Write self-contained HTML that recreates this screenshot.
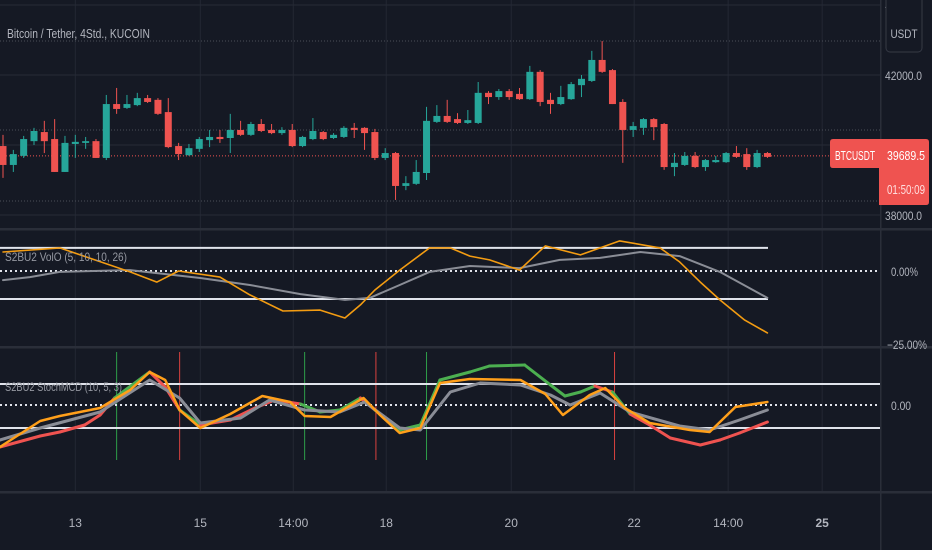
<!DOCTYPE html>
<html><head><meta charset="utf-8"><style>
html,body{margin:0;padding:0;background:#151924;}
svg{display:block;font-family:"Liberation Sans",sans-serif;}
</style></head><body>
<svg id="c" width="932" height="550" viewBox="0 0 932 550">
<rect width="932" height="550" fill="#151924"/>
<g id="grid"></g>
<g id="price"></g>
<g id="vol"></g>
<g id="stoch"></g>
<g id="axes"></g>
</svg>
<script>
// ---- candle data ----
const opens=[39970,39430,39690,40110,40370,40170,39230,40030,40060,40110,39630,41170,41060,41140,41340,41290,40940,39970,39710,39890,40140,40230,40200,40430,40290,40600,40430,40340,40430,39970,40170,40370,40200,40230,40490,40490,40370,39630,39770,38830,38890,39200,40660,40830,40740,40630,40630,41490,41370,41540,41460,41310,42090,41290,41170,41310,41710,41830,42430,42140,41230,40430,40490,40740,40600,39370,39430,39690,39370,39510,39510,39770,39740,39370,39770];
const highs=[40290,39860,40260,40490,40690,40740,40260,40290,40230,40170,41430,41630,41430,41490,41430,41340,41340,40060,40030,40230,40430,40430,40890,40690,40660,40740,40600,40510,40600,40260,40770,40400,40340,40540,40630,40510,40460,39910,39800,39110,39570,41090,41140,41290,40910,41000,41800,41540,41600,41600,41630,42260,42140,41490,41690,41800,42000,42690,42970,42170,41310,40660,40770,40770,40630,39770,39800,39800,39600,39690,39800,39970,39910,39860,39800];
const lows=[39060,39230,39630,40000,39770,39230,39230,39630,39890,39630,39570,40890,41030,41110,41200,40860,39910,39570,39690,39800,39940,40060,39770,40260,40260,40370,40310,40290,39940,39940,40140,40140,40170,40200,40200,39860,39570,39570,38430,38710,38860,39000,40630,40630,40600,40600,40600,41170,41290,41290,41290,41290,41110,40890,41140,41290,41370,41800,42060,41170,39490,40230,40290,40140,39290,39110,39400,39340,39260,39490,39490,39630,39290,39340,39630];
const closes=[39430,39740,40170,40400,40110,39230,40060,40090,40110,39630,41170,41030,41170,41340,41230,40890,39940,39740,39910,40170,40230,40170,40430,40290,40600,40400,40340,40430,39970,40230,40400,40170,40290,40490,40430,40340,39630,39770,38830,38910,39230,40690,40830,40660,40630,40710,41490,41370,41540,41370,41310,42090,41230,41170,41370,41740,41890,42430,42090,41170,40430,40540,40740,40510,39370,39490,39690,39370,39570,39570,39770,39660,39370,39770,39660];
const priceTicks=["44000.0","42000.0","38000.0"];
const priceTickVals=[44000,42000,38000];
const gridVals=[44000,42000,40000,38000];
const lastPrice=39689.5;
// ---- VolO ----
const volOrangeIdx=[0,5.5,12.3,14.9,17,21,23.9,27.1,30.7,33.1,34.6,36,38.4,41.3,43.3,45.2,47.1,50,52.5,55.9,59.7,63.6,65.5,67.5,69.4,71.8,74];
const volOrange=[6.5,7.9,-0.3,-3.8,0,-2.1,-8.2,-13.7,-13.4,-16.1,-11.6,-6.5,0.3,7.9,7.9,5.1,3.8,0.3,8.6,5.5,10.3,7.9,3.1,-3.8,-9.9,-16.8,-21.2];
const volGrayIdx=[0,2.6,5.5,12.3,19.1,23.9,28.8,33.1,35.5,38.4,41.3,45.2,50,53.9,57.8,61.7,65.5,69.4,74];
const volGray=[-3.1,-2.1,-0.3,0.3,-2.4,-4.8,-7.9,-9.9,-9.2,-4.8,-0.3,1.7,1.0,3.8,4.5,6.5,5.1,-0.3,-9.2];
const volBands=[7.9,-9.6];
// ---- StochMCD ----
const sigIdx=[-0.3,3.6,5.5,7.9,9.4,10.8,14.2,15.7,17.1,19.1,22,24.4,26.3,28.8,30.7,32.6,34.6,36,38.4,40.4,42.3,45.2,47.1,50.5,53,54.4,55.9,57.3,59,60.7,62.6,64.6,67.5,69.4,71.3,74];
const sigVals=[-42,-31,-27,-20,-10,7,33,18,-5,-20,-15,-3,5,1,-7,-5,7,-5,-25,-20,25,33,39,40,20,9,13,19,13,-9,-20,-33,-40,-35,-28,-17];
const stOrIdx=[-0.3,3.6,5.5,9.4,12.3,14.2,15.7,17.1,19.1,22,25.1,27.8,29.2,31.7,34.9,36.5,38.4,40.4,42.3,45.2,50.1,52.5,54.2,56.8,58.3,60.2,62.6,66.5,68.4,70.9,74];
const stOrVals=[-42,-16,-11,-3,15,33,25,-5,-23,-9,9,3,-11,-12,7,-10,-28,-23,22,26,25,11,-10,10,17,-3,-18,-25,-27,-2,3];
const stGrIdx=[-0.3,3.6,9.4,14.2,17.1,19.1,23,25.8,29.2,32.6,35,38.4,40.4,43.3,46.2,50.1,53,54.9,57.8,60.7,65.5,68.4,71.3,74];
const stGrVals=[-35,-23,-7,25,7,-18,-13,5,-5,-7,3,-23,-25,13,22,20,10,0,12,-7,-21,-25,-15,-5];
const stBands=[21,-23];
const buySignals=[11,29.2,41];
const sellSignals=[17.1,36.1,59.2];
// ---- time axis ----
const timeLabels=["13","15","14:00","18","20","22","14:00","25"];
const timeIdx=[7,19.1,28.1,37.1,49.2,61.1,70.2,79.3];

const NS="http://www.w3.org/2000/svg";
function mk(parent,tag,attrs,text){const e=document.createElementNS(NS,tag);for(const k in attrs)e.setAttribute(k,attrs[k]);if(text!==undefined)e.textContent=text;parent.appendChild(e);return e;}
const xOf=i=>3+i*10.33;
const yP=p=>145-(p-40000)*0.035;
const yV=v=>271-v*2.92;
const yS=v=>405-v;
const PW=880;

const grid=document.getElementById('grid');
timeIdx.forEach((t,i)=>{const l=mk(grid,'line',{x1:xOf(t),x2:xOf(t),y1:0,y2:492,stroke:'#232733','stroke-width':1});

});
gridVals.forEach(v=>{const l=mk(grid,'line',{x1:0,x2:PW,y1:yP(v),y2:yP(v),stroke:'#262a36','stroke-width':1});

});
[41,130,201].forEach(y=>{const l=mk(grid,'line',{x1:0,x2:PW,y1:y,y2:y,stroke:'#4a4e59','stroke-width':1,'stroke-dasharray':'1 2'});

});
[229,347,492].forEach(y=>{const l=mk(grid,'rect',{x:0,y:y-1,width:932,height:2.5,fill:'#2a2e39'});

});
mk(grid,'rect',{x:880,y:0,width:1.5,height:550,fill:'#2a2e39',});

const pr=document.getElementById('price');
const lpY=yP(lastPrice);
mk(pr,'line',{x1:0,x2:PW,y1:lpY,y2:lpY,stroke:'#ef5350','stroke-width':1,'stroke-dasharray':'1 2',});
for(let i=0;i<opens.length;i++){
  const up=closes[i]>=opens[i];const col=up?'#26a69a':'#ef5350';const x=xOf(i);
  const g=mk(pr,'g',{});
  
  
  mk(g,'line',{x1:x,x2:x,y1:yP(highs[i]),y2:yP(lows[i]),stroke:col,'stroke-width':1});
  const t=yP(Math.max(opens[i],closes[i])),b=yP(Math.min(opens[i],closes[i]));
  mk(g,'rect',{x:x-3.5,y:t,width:7,height:Math.max(1.5,b-t),fill:col});
}
mk(pr,'text',{x:7,y:38,fill:'#b2b5be','font-size':13,textLength:143,lengthAdjust:'spacingAndGlyphs',},'Bitcoin / Tether, 4Std., KUCOIN');

function poly(parent,xs,ys,color,w,name){
  const d=xs.map((x,i)=>(i?'L':'M')+x.toFixed(1)+' '+ys[i].toFixed(1)).join(' ');
  const p=mk(parent,'path',{d:d,fill:'none',stroke:color,'stroke-width':w,'stroke-linejoin':'round','stroke-linecap':'round'});
  
  
  return p;
}
const vg=document.getElementById('vol');
volBands.forEach(v=>{const l=mk(vg,'line',{x1:0,x2:768,y1:yV(v),y2:yV(v),stroke:'#e0e3eb','stroke-width':2});

});
mk(vg,'line',{x1:0,x2:PW,y1:yV(0),y2:yV(0),stroke:'#e0e3eb','stroke-width':2,'stroke-dasharray':'2 3',});
poly(vg,volGrayIdx.map(xOf),volGray.map(yV),'#8a8d96',2,'volo-signal-line');
poly(vg,volOrangeIdx.map(xOf),volOrange.map(yV),'#f39c12',1.6,'volo-line');
mk(vg,'text',{x:5,y:261,fill:'#9598a1','font-size':12,textLength:122,lengthAdjust:'spacingAndGlyphs',},'S2BU2 VolO (5, 10, 10, 26)');

const sg=document.getElementById('stoch');
buySignals.forEach(t=>{const l=mk(sg,'line',{x1:xOf(t),x2:xOf(t),y1:352,y2:460,stroke:'#2e9e4a','stroke-width':1});

});
sellSignals.forEach(t=>{const l=mk(sg,'line',{x1:xOf(t),x2:xOf(t),y1:352,y2:460,stroke:'#d9423f','stroke-width':1});

});
stBands.forEach(v=>{const l=mk(sg,'line',{x1:0,x2:PW,y1:yS(v),y2:yS(v),stroke:'#e0e3eb','stroke-width':2});

});
mk(sg,'line',{x1:0,x2:PW,y1:yS(0),y2:yS(0),stroke:'#e0e3eb','stroke-width':2,'stroke-dasharray':'2 3',});
function interp(xs,vs,x){if(x<=xs[0])return vs[0];for(let i=1;i<xs.length;i++){if(x<=xs[i]){const f=(x-xs[i-1])/(xs[i]-xs[i-1]);return vs[i-1]+f*(vs[i]-vs[i-1]);}}return vs[vs.length-1];}
for(let i=1;i<sigIdx.length;i++){
  const mid=(sigIdx[i]+sigIdx[i-1])/2;const mv=(sigVals[i]+sigVals[i-1])/2;
  const col=mv>=interp(stOrIdx,stOrVals,mid)?'#4caf50':'#ef5350';
  const l=mk(sg,'line',{x1:xOf(sigIdx[i-1]),y1:yS(sigVals[i-1]),x2:xOf(sigIdx[i]),y2:yS(sigVals[i]),stroke:col,'stroke-width':3,'stroke-linecap':'round'});
  
  
}
poly(sg,stGrIdx.map(xOf),stGrVals.map(yS),'#8a8d96',3,'stoch-signal-line');
poly(sg,stOrIdx.map(xOf),stOrVals.map(yS),'#ff9f1a',2.5,'stoch-line');
mk(sg,'text',{x:5,y:391,fill:'#9598a1','font-size':12,textLength:117,lengthAdjust:'spacingAndGlyphs',},'S2BU2 StochMCD (10, 5, 3)');

const ax=document.getElementById('axes');
priceTicks.forEach((t,i)=>{const y=yP(priceTickVals[i]);const e=mk(ax,'text',{x:922,y:y+5,fill:'#b2b5be','font-size':12,'text-anchor':'end',textLength:37,lengthAdjust:'spacingAndGlyphs'},t);

});
mk(ax,'rect',{x:886,y:-4,width:36,height:56,rx:4,fill:'#151924',stroke:'#363a45',});
mk(ax,'text',{x:904,y:38,fill:'#b2b5be','font-size':12,'text-anchor':'middle',textLength:27,lengthAdjust:'spacingAndGlyphs',},'USDT');
mk(ax,'path',{d:'M830 142 Q830 139 833 139 L926 139 Q929 139 929 142 L929 202 Q929 205 926 205 L879 205 L879 168 L833 168 Q830 168 830 165 Z',fill:'#ef5350',});
mk(ax,'text',{x:835,y:160,fill:'#fff','font-size':13,textLength:40,lengthAdjust:'spacingAndGlyphs',},'BTCUSDT');
mk(ax,'text',{x:887,y:160,fill:'#fff','font-size':13,textLength:38,lengthAdjust:'spacingAndGlyphs',},'39689.5');
mk(ax,'text',{x:887,y:194,fill:'#fdd','font-size':13,textLength:38,lengthAdjust:'spacingAndGlyphs',},'01:50:09');
mk(ax,'text',{x:891,y:276,fill:'#b2b5be','font-size':12,textLength:27,lengthAdjust:'spacingAndGlyphs',},'0.00%');
mk(ax,'text',{x:887,y:349,fill:'#b2b5be','font-size':12,textLength:40,lengthAdjust:'spacingAndGlyphs',},'\u221225.00%');
mk(ax,'text',{x:891,y:410,fill:'#b2b5be','font-size':12,textLength:20,lengthAdjust:'spacingAndGlyphs',},'0.00');
timeLabels.forEach((t,i)=>{const e=mk(ax,'text',{x:xOf(timeIdx[i]),y:527,fill:'#b2b5be','font-size':12,'text-anchor':'middle','font-weight':i===7?'bold':'normal'},t);

});
</script>
</body></html>
